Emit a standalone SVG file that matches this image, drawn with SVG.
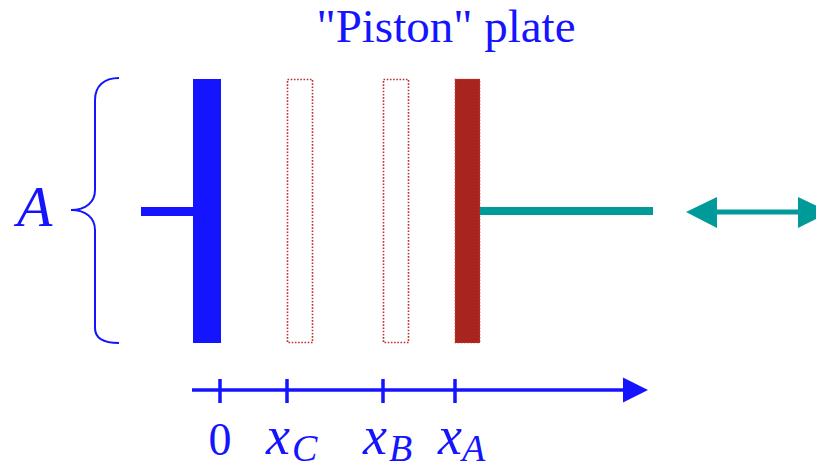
<svg xmlns="http://www.w3.org/2000/svg" width="816" height="470" viewBox="0 0 816 470">
<style>
.t{font-family:"Liberation Serif","Times New Roman",serif;fill:#1414FF}
.i{font-style:italic}
.ghost{fill:none;stroke:#C0302A;stroke-width:1.6;stroke-dasharray:1.6 1.6}
</style>
<rect width="816" height="470" fill="#fff"/>
<text class="t" x="446" y="42" font-size="47" text-anchor="middle">"Piston" plate</text>
<g id="brace">
<path d="M119,78 C104,78 95,86 95,100 L95,190 C95,202 86,210 71,210 C86,210 95,218 95,230 L95,328 C95,338 104,343 119,343" fill="none" stroke="#1414FF" stroke-width="2"/>
<text class="t i" x="17" y="226" font-size="58">A</text>
</g>
<g id="fixed-plate">
<rect x="193" y="79" width="28" height="264" fill="#1414FF"/>
<rect x="141" y="207" width="52" height="9" fill="#1414FF"/>
</g>
<g id="plate-C"><rect class="ghost" x="287.5" y="79.5" width="25" height="263"/></g>
<g id="plate-B"><rect class="ghost" x="383.5" y="79.5" width="25" height="263"/></g>
<g id="plate-A">
<rect x="455" y="79" width="25" height="264" fill="#A8241E"/>
<rect class="ghost" x="455.5" y="79.5" width="24" height="263"/>
</g>
<g id="connectors">
<line x1="480" y1="211" x2="653" y2="211" stroke="#009B98" stroke-width="8"/>
<line x1="712" y1="212" x2="805" y2="212" stroke="#009B98" stroke-width="5"/>
<path d="M686,212 L717,197 L717,228 Z" fill="#009B98"/>
<path d="M830,212 L798,197 L798,228 Z" fill="#009B98"/>
<line x1="192" y1="390" x2="630" y2="390" stroke="#1414FF" stroke-width="3.5"/>
<path d="M648,390 L623,377.5 L623,402.5 Z" fill="#1414FF"/>
<g stroke="#1414FF" stroke-width="3.5">
<line x1="220" y1="379" x2="220" y2="403"/>
<line x1="287" y1="379" x2="287" y2="403"/>
<line x1="383" y1="379" x2="383" y2="403"/>
<line x1="455" y1="379" x2="455" y2="403"/>
</g>
</g>
<g id="labels">
<text class="t" x="220" y="455" font-size="46" text-anchor="middle">0</text>
<text class="t i" x="266" y="454" font-size="54">x<tspan font-size="38" dx="2" dy="7">C</tspan></text>
<text class="t i" x="363" y="454" font-size="54">x<tspan font-size="38" dx="2" dy="7">B</tspan></text>
<text class="t i" x="438" y="454" font-size="54">x<tspan font-size="38" dx="0" dy="7">A</tspan></text>
</g>
</svg>
